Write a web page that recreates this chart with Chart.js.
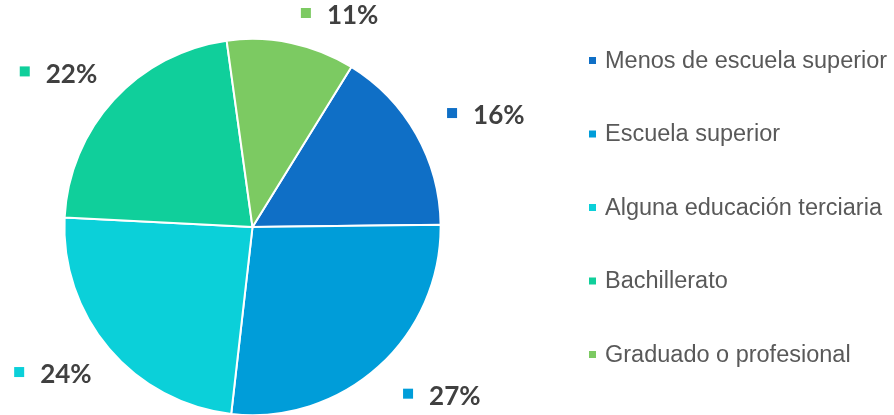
<!DOCTYPE html>
<html>
<head>
<meta charset="utf-8">
<script src="https://cdn.jsdelivr.net/npm/chart.js@4/dist/chart.umd.min.js"></script>
<style>
    body { margin: 0; background: #fff; }
    #wrap { width: 894px; height: 415px; position: relative; }
</style>
</head>
<body>
<div id="wrap"><canvas id="pieChart"></canvas></div>
<script>
// Nivel educativo
const categories = ['Menos de escuela superior', 'Escuela superior', 'Alguna educación terciaria', 'Bachillerato', 'Graduado o profesional'];
const percentValues = [16, 27, 24, 22, 11];
const sliceColors = ['#0F6FC6', '#009DD9', '#0BD0D9', '#10CF9B', '#7CCA62'];

// labels outside each slice: small square + bold percentage
const outsideLabels = {
    id: 'outsideLabels',
    afterDatasetsDraw(chart) {
        const ctx = chart.ctx;
        const arcs = chart.getDatasetMeta(0).data;
        ctx.save();
        ctx.font = 'bold 26px Lato';
        ctx.textBaseline = 'middle';
        arcs.forEach((arc, i) => {
            const p = arc.getProps(['x', 'y', 'startAngle', 'endAngle', 'outerRadius']);
            const mid = (p.startAngle + p.endAngle) / 2;
            const ux = Math.cos(mid), uy = Math.sin(mid);
            const text = percentValues[i] + '%';
            const tw = ctx.measureText(text).width;
            const w = 10 + 16 + tw, h = 22;
            let cx = p.x + ux * p.outerRadius * 1.17 + Math.sign(ux) * (w / 2 - 2) + 5;
            let cy = p.y + uy * p.outerRadius * 1.15 + uy * h / 2;
            cy = Math.max(cy, h / 2 + 4);
            cy = Math.min(cy, chart.height - h / 2 - 4);
            const left = cx - w / 2;
            ctx.fillStyle = sliceColors[i];
            ctx.fillRect(left, cy - 7, 10, 10);
            ctx.fillStyle = '#404040';
            ctx.fillText(text, left + 26, cy + 1);
        });
        ctx.restore();
    }
};

// legend on the right, vertically centred
const sideLegend = {
    id: 'sideLegend',
    afterDraw(chart) {
        const ctx = chart.ctx;
        const step = 73.5;
        const top = chart.height / 2 - step * (categories.length - 1) / 2;
        ctx.save();
        ctx.font = '23.5px "Liberation Sans", Arial';
        ctx.textBaseline = 'middle';
        categories.forEach((name, i) => {
            const y = top + i * step;
            ctx.fillStyle = sliceColors[i];
            ctx.fillRect(589, y - 3.5, 7, 7);
            ctx.fillStyle = '#595959';
            ctx.fillText(name, 605, y + 1);
        });
        ctx.restore();
    }
};

new Chart(document.getElementById('pieChart'), {
    type: 'pie',
    data: {
        labels: categories,
        datasets: [{
            data: percentValues,
            backgroundColor: sliceColors,
            borderColor: '#ffffff',
            borderWidth: 2
        }]
    },
    options: {
        responsive: true,
        maintainAspectRatio: false,
        animation: false,
        rotation: 31.7,
        radius: '100.6%',
        layout: {
            padding: { top: 39, bottom: 0, left: 64, right: 453 }
        },
        plugins: {
            legend: { display: false },
            tooltip: { enabled: false }
        }
    },
    plugins: [outsideLabels, sideLegend]
});
</script>
</body>
</html>
